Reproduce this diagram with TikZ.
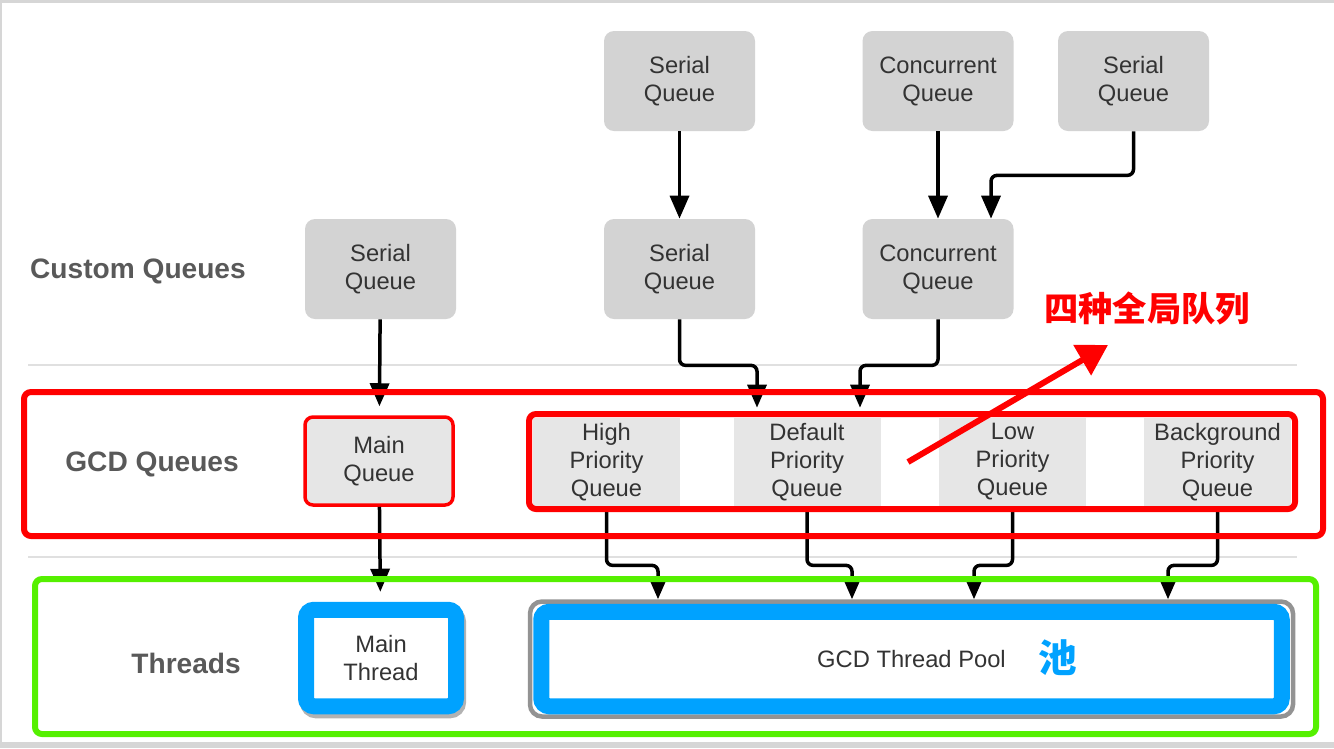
\documentclass[tikz,border=0pt]{standalone}
\usepackage{fontspec}
\setmainfont{Liberation Sans}
\newfontfamily\cjk{Noto Sans CJK SC}
\usetikzlibrary{arrows.meta,positioning,calc}
\definecolor{qgris}{HTML}{D3D3D3}
\definecolor{qclair}{HTML}{E6E6E6}
\definecolor{txtgris}{HTML}{333333}
\definecolor{lblgris}{HTML}{595959}
\definecolor{cadre}{HTML}{D6D6D6}
\definecolor{sepgris}{HTML}{E0E0E0}
\definecolor{rouge}{HTML}{FF0000}
\definecolor{vert}{HTML}{55F000}
\definecolor{bleu}{HTML}{00A2FF}
\tikzset{
  cq/.style={rectangle, rounded corners=2mm, fill=qgris, text=txtgris, align=center,
             font=\fontsize{13.5}{15.9}\selectfont, minimum width=30.2mm, minimum height=20mm},
  gq/.style={rectangle, fill=qclair, text=txtgris, align=center, inner sep=1pt,
             font=\fontsize{13.5}{15.9}\selectfont, minimum width=29.4mm, minimum height=17.6mm},
  thr/.style={rectangle, draw=bleu, line width=3.2mm, rounded corners=1.6mm, fill=white,
              text=txtgris, align=center, font=\fontsize{13.5}{15.9}\selectfont},
  lbl/.style={font=\fontsize{16}{19}\selectfont\bfseries, text=lblgris, anchor=east},
  arr/.style={-{Triangle[length=4.6mm,width=3.8mm]}, line width=0.7mm, rounded corners=1.2mm},
  cadrerouge/.style={draw=rouge, line width=1.2mm, rounded corners=1.4mm},
  sepline/.style={draw=sepgris, line width=0.4mm},
}

\begin{document}
\begin{tikzpicture}[x=0.2mm, y=-0.2mm]
  \useasboundingbox (0,0) rectangle (1334,748);
  % cadre gris
  \fill[cadre] (0,0) rectangle (1334,3);
  \fill[cadre] (0,0) rectangle (2,748);
  \fill[cadre] (0,742) rectangle (1334,748);
  \draw[sepline] (28,365) -- (1297,365);
  \draw[sepline] (28,557) -- (1297,557);

  \node[lbl] (lcq) at (252,271) {Custom Queues};
  \node[lbl] (lgq) at (245,464) {GCD Queues};
  \node[lbl] (lth) at (247,663) {Threads};

  % custom queues
  \node[cq] (sq1) at (679.5,81) {Serial\\Queue};
  \node[cq] (cq1) at (938,81) {Concurrent\\Queue};
  \node[cq] (sq2) at (1133.5,81) {Serial\\Queue};
  \node[cq] (sq3) at (380.5,269) {Serial\\Queue};
  \node[cq] (sq4) at (679.5,269) {Serial\\Queue};
  \node[cq] (cq2) at (938,269) {Concurrent\\Queue};

  % GCD queues
  \node[gq, draw=rouge, line width=0.7mm, rounded corners=1.6mm, minimum width=29.6mm] (mq) at (379,461) {Main\\Queue};
  \node[gq] (hpq) at (606.5,462) {High\\Priority\\Queue};
  \node[gq] (dpq) at (807,462) {Default\\Priority\\Queue};
  \node[gq] (lpq) at (1012.5,462) {Low\\Priority\\Queue};
  \node[gq] (bpq) at (1217.5,462) {Background\\Priority\\Queue};

  % threads
  \node[rectangle, draw=gray!60, line width=3.2mm, rounded corners=1.6mm, minimum width=30mm, minimum height=19.3mm] (mtsh) at (383,662) {};
  \node[thr, minimum width=30mm, minimum height=19.3mm] (mt) at (381,658) {Main\\Thread};
  \node[rectangle, draw=gray!85, line width=0.9mm, rounded corners=2.4mm, text=txtgris,
        font=\fontsize{13.5}{15.9}\selectfont, minimum width=152.6mm, minimum height=23mm] (pool) at (911.5,659) {GCD Thread Pool};
  \node[rectangle, draw=bleu, line width=3.2mm, rounded corners=1.6mm, minimum width=148.1mm, minimum height=18.9mm] (poolring) at (pool.center) {};

  \draw[arr] (sq1) -- (sq4);
  \draw[arr] (cq1) -- (cq2);
  \draw[arr] (sq2.south) -- ++(0,44) -| ([xshift=10.6mm]cq2.north);
  \draw[arr, shorten >=1.8mm] (sq3) -- (mq);
  \draw[arr, shorten >=2mm] (sq4.south) -- ++(0,46) -| ([xshift=-10mm]dpq.north);
  \draw[arr, shorten >=2mm] (cq2.south) -- ++(0,46) -| ([xshift=10.6mm]dpq.north);
  \draw[arr, shorten >=2mm] (mq) -- (mt);
  \draw[arr] (hpq.south) -- ++(0,59) -| ([xshift=-50.7mm]pool.north);
  \draw[arr] (dpq.south) -- ++(0,59) -| ([xshift=-11.9mm]pool.north);
  \draw[arr] (lpq.south) -- ++(0,59) -| ([xshift=12.5mm]pool.north);
  \draw[arr] (bpq.south) -- ++(0,59) -| ([xshift=51.3mm]pool.north);

  % cadres d'annotation
  \draw[cadrerouge] (24,392) rectangle (1323,536);
  \draw[cadrerouge] (529,414) rectangle (1295,509);
  \draw[draw=vert, line width=1.2mm, rounded corners=1.4mm] (35,579) rectangle (1316,734);

  \node[font=\cjk\fontsize{19.5}{21}\selectfont\bfseries, text=rouge] (note) at (1147,308) {四种全局队列};
  \coordinate (fq) at (908,462);
  \coordinate (fp) at (1108,345);
  \draw[draw=rouge, line width=1.2mm, -{Triangle[length=6mm,width=6.8mm]}] (fq) -- (fp);
  \node[font=\cjk\fontsize{22}{24}\selectfont\bfseries, text=bleu] (chi) at (1058,658) {池};
\end{tikzpicture}
\end{document}
